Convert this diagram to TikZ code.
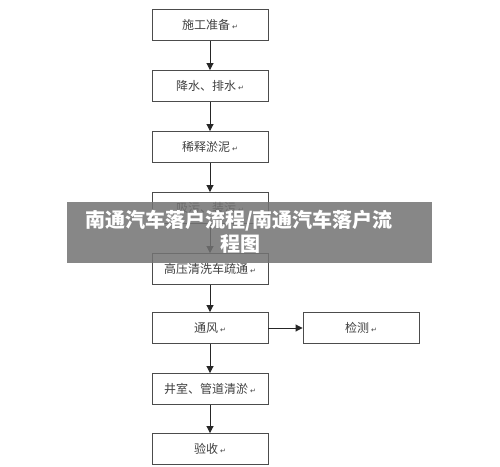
\documentclass[tikz,border=0pt]{standalone}
\usepackage{fontspec}
\newfontfamily\cjk{Noto Sans CJK SC}
\newfontfamily\djv{DejaVu Sans}
\newcommand{\retmark}{\,{\djv\fontsize{7}{8}\selectfont ↵}}
\usetikzlibrary{arrows.meta}
\begin{document}
\begin{tikzpicture}[x=1pt,y=-1pt,
  stepbox/.style={draw=black!70,line width=0.9pt,minimum width=116pt,minimum height=31pt,inner sep=0pt,font=\cjk\fontsize{12}{14}\selectfont,text=black!75},
  arr/.style={draw=black!85,line width=0.9pt,-{Triangle[length=7pt,width=7pt]}}]
\useasboundingbox (0,0) rectangle (500,466);
\fill[white] (0,0) rectangle (500,466);
\node[stepbox] (a) at (210,25) {施工准备\retmark};
\node[stepbox] (b) at (210,86) {降水、排水\retmark};
\node[stepbox] (c) at (210,147) {稀释淤泥\retmark};
\node[stepbox] (d) at (210,208) {吸污、装污\retmark};
\node[stepbox] (e) at (210,269) {高压清洗车疏通\retmark};
\node[stepbox] (f) at (210,328) {通风\retmark};
\node[stepbox] (g) at (361,328) {检测\retmark};
\node[stepbox] (h) at (210,389) {井室、管道清淤\retmark};
\node[stepbox] (i) at (210,449) {验收\retmark};
\draw[arr] (a) -- (b);
\draw[arr] (b) -- (c);
\draw[arr] (c) -- (d);
\draw[arr] (d) -- (e);
\draw[arr] (e) -- (f);
\draw[arr] (f) -- (g);
\draw[arr] (f) -- (h);
\draw[arr] (h) -- (i);
\fill[black!55,opacity=0.85] (67,202) rectangle (432,263);
\node[text=white,font=\cjk\bfseries\fontsize{20}{22}\selectfont,inner sep=0pt] (t1) at (239,221) {南通汽车落户流程/南通汽车落户流};
\node[text=white,font=\cjk\bfseries\fontsize{20}{22}\selectfont,inner sep=0pt] (t2) at (240,244) {程图};
\end{tikzpicture}
\end{document}
